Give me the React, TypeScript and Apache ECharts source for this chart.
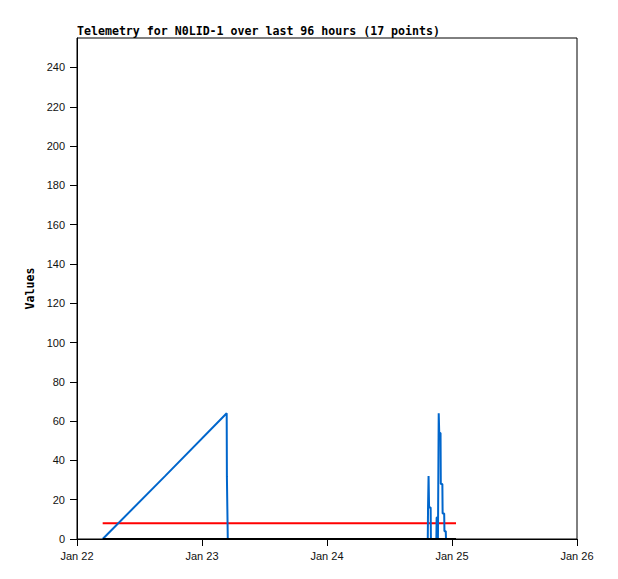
import React, { useEffect, useRef } from "react";
import * as echarts from "echarts";

// Hours since Jan 22 00:00
const blueTimes = [4.93, 16.9, 28.74, 28.78, 28.9, 28.95, 67.35, 67.4, 67.5, 67.6, 67.9, 67.95, 69.0, 69.05, 69.25, 69.3, 69.45, 69.55, 69.8, 69.85, 70.15, 70.2, 70.5, 70.55, 70.8, 70.85];
const blueValues = [0, 32, 64, 32, 32, 0, 0, 16, 32, 16, 16, 0, 0, 11, 11, 0, 64, 54, 54, 28, 28, 13, 13, 4, 4, 0];
const limitTimes = [4.93, 72.77];
const redValues = [8, 8];
const blackValues = [0, 0];
const xTickValues = [0, 24, 48, 72, 96];
const xTickLabels = ["Jan 22", "Jan 23", "Jan 24", "Jan 25", "Jan 26"];
const yTicks = [0, 20, 40, 60, 80, 100, 120, 140, 160, 180, 200, 220, 240];
const titleText = "Telemetry for N0LID-1 over last 96 hours (17 points)";

export default function App() {
  const ref = useRef<HTMLDivElement>(null);
  useEffect(() => {
    if (!ref.current) return;
    const chart = echarts.init(ref.current, null, { renderer: "svg" });
    const zip = (t: number[], v: number[]) => t.map((x, i) => [x, v[i]]);
    chart.setOption({
      animation: false,
      backgroundColor: "#fff",
      title: {
        text: titleText,
        left: 77,
        top: 25,
        padding: 0,
        textStyle: {
          fontFamily: "DejaVu Sans Mono",
          fontWeight: "bold",
          fontSize: 11.6,
          color: "#000",
        },
      },
      grid: {
        left: 77,
        top: 38,
        width: 500,
        height: 501,
        show: true,
        borderColor: "#000",
        borderWidth: 1,
        backgroundColor: "transparent",
      },
      xAxis: {
        type: "value",
        min: 0,
        max: 96,
        interval: 24,
        axisLine: { show: true, onZero: false, lineStyle: { color: "#000", width: 1 } },
        axisTick: { show: true, length: 7, inside: false, lineStyle: { color: "#000" } },
        splitLine: { show: false },
        axisLabel: {
          color: "#111",
          fontFamily: "Liberation Sans",
          fontSize: 11,
          margin: 11,
          formatter: (v: number) => {
            const i = xTickValues.indexOf(v);
            return i >= 0 ? xTickLabels[i] : "";
          },
        },
      },
      yAxis: {
        type: "value",
        min: 0,
        max: 255,
        interval: 20,
        name: "Values",
        nameLocation: "middle",
        nameGap: 39,
        nameRotate: 90,
        nameTextStyle: {
          fontFamily: "DejaVu Sans Mono",
          fontWeight: "bold",
          fontSize: 11.6,
          color: "#000",
        },
        axisLine: { show: true, lineStyle: { color: "#000", width: 1 } },
        axisTick: { show: true, length: 7, customValues: yTicks, lineStyle: { color: "#000" } },
        splitLine: { show: false },
        axisLabel: {
          color: "#111",
          fontFamily: "Liberation Sans",
          fontSize: 11,
          margin: 12,
          customValues: yTicks,
        },
      },
      series: [
        {
          type: "line",
          data: zip(limitTimes, redValues),
          showSymbol: false,
          lineStyle: { color: "#ff0000", width: 2 },
          z: 2,
        },
        {
          type: "line",
          data: zip(blueTimes, blueValues),
          showSymbol: false,
          lineStyle: { color: "#0066cc", width: 2 },
          z: 3,
        },
        {
          type: "line",
          data: zip(limitTimes, blackValues),
          showSymbol: false,
          lineStyle: { color: "#000000", width: 2 },
          z: 4,
        },
      ],
    });
    return () => chart.dispose();
  }, []);
  return (
    <div
      ref={ref}
      style={{ position: "absolute", left: 0, top: 0, width: 618, height: 579 }}
    />
  );
}
